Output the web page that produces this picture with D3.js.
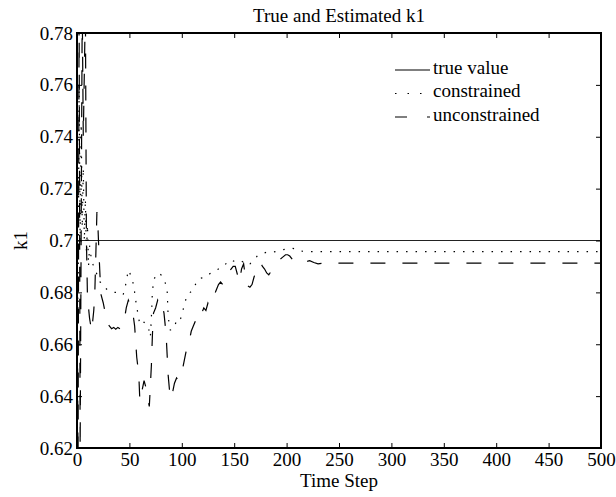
<!DOCTYPE html>
<html>
<head>
<meta charset="utf-8">
<script src="https://cdn.jsdelivr.net/npm/d3@7"></script>
<style>
  body { margin: 0; background: #fff; }
  text { font-family: "Liberation Serif", "Times New Roman", serif; fill: #000; }
</style>
</head>
<body>
<svg width="616" height="497"></svg>
<script>
// Données
const xTicks = [0, 50, 100, 150, 200, 250, 300, 350, 400, 450, 500];
const yTicks = [0.62, 0.64, 0.66, 0.68, 0.7, 0.72, 0.74, 0.76, 0.78];
const trueValue = 0.7;

const unconStep = [0, 1, 2, 3, 5, 6, 8, 9, 10, 12, 14, 16, 17, 18, 19, 20, 21, 22, 23, 25, 27, 29, 31, 33, 35, 37, 39, 41, 43, 45, 47, 49, 51, 53, 55, 57, 59, 60, 62, 64, 66, 68, 69, 71, 72, 73, 75, 77, 79, 81, 83, 85, 87, 89, 91, 93, 95, 97, 99, 101, 103, 105, 107, 109, 111, 113, 115, 117, 119, 121, 123, 125, 127, 130, 133, 135, 137, 139, 141, 143, 145, 147, 149, 151, 153, 155, 157, 159, 161, 163, 165, 167, 169, 171, 173, 175, 177, 179, 181, 183, 185, 187, 190, 193, 196, 199, 201, 203, 206, 210, 215, 218, 222, 226, 230, 240, 250, 275, 300, 350, 400, 450, 500];
const unconValue = [0.70, 0.61, 0.79, 0.62, 0.79, 0.74, 0.79, 0.70, 0.678, 0.670, 0.665, 0.673, 0.680, 0.695, 0.711, 0.705, 0.695, 0.686, 0.679, 0.676, 0.672, 0.668, 0.667, 0.666, 0.6665, 0.6658, 0.6665, 0.666, 0.6665, 0.669, 0.674, 0.677, 0.675, 0.673, 0.667, 0.655, 0.648, 0.638, 0.642, 0.646, 0.643, 0.638, 0.636, 0.652, 0.664, 0.672, 0.674, 0.677, 0.675, 0.676, 0.672, 0.664, 0.648, 0.639, 0.641, 0.645, 0.647, 0.646, 0.648, 0.651, 0.655, 0.659, 0.661, 0.665, 0.667, 0.669, 0.671, 0.673, 0.672, 0.674, 0.673, 0.676, 0.675, 0.678, 0.681, 0.683, 0.684, 0.683, 0.685, 0.686, 0.688, 0.689, 0.690, 0.690, 0.687, 0.684, 0.689, 0.691, 0.685, 0.6825, 0.682, 0.683, 0.686, 0.688, 0.690, 0.6915, 0.690, 0.689, 0.6875, 0.6868, 0.688, 0.6895, 0.691, 0.6925, 0.6935, 0.6945, 0.6945, 0.694, 0.6925, 0.6915, 0.691, 0.6918, 0.6922, 0.6915, 0.691, 0.6915, 0.6913, 0.6913, 0.6913, 0.6913, 0.6913, 0.6913, 0.6913];

const conStep = [0, 1, 2, 3, 4, 5, 6, 7, 8, 9, 10, 11, 12, 14, 16, 18, 20, 22, 24, 26, 29, 32, 35, 38, 41, 44, 46, 48, 49, 50, 52, 54, 56, 58, 60, 62, 64, 66, 68, 70, 71, 72, 74, 76, 78, 80, 82, 84, 86, 87, 89, 91, 93, 95, 97, 99, 101, 103, 105, 108, 111, 113, 115, 118, 122, 126, 131, 135, 138, 142, 146, 150, 153, 157, 161, 165, 169, 172, 176, 181, 187, 192, 197, 201, 205, 208, 212, 220, 250, 300, 350, 400, 450, 500];
const conValue = [0.70, 0.668, 0.76, 0.70, 0.745, 0.705, 0.728, 0.70, 0.716, 0.695, 0.706, 0.69, 0.698, 0.692, 0.690, 0.688, 0.686, 0.684, 0.6835, 0.682, 0.681, 0.6805, 0.680, 0.680, 0.6795, 0.679, 0.682, 0.6865, 0.6886, 0.688, 0.6855, 0.683, 0.677, 0.672, 0.6675, 0.668, 0.6685, 0.6675, 0.6667, 0.6628, 0.6705, 0.681, 0.6855, 0.687, 0.6875, 0.6868, 0.686, 0.684, 0.681, 0.6705, 0.6655, 0.6655, 0.667, 0.669, 0.6685, 0.670, 0.673, 0.676, 0.679, 0.680, 0.681, 0.683, 0.6848, 0.6855, 0.6858, 0.687, 0.6882, 0.689, 0.6894, 0.691, 0.6925, 0.692, 0.6917, 0.6922, 0.6906, 0.691, 0.6925, 0.694, 0.6948, 0.6955, 0.6955, 0.696, 0.6965, 0.6968, 0.697, 0.6968, 0.696, 0.6957, 0.6957, 0.6957, 0.6957, 0.6957, 0.6957, 0.6957];

const legendLabels = ["true value", "constrained", "unconstrained"];

// Paramètres principaux
const svg = d3.select("svg"),
      margin = { top: 33, right: 15, bottom: 49, left: 77 },
      width = +svg.attr("width") - margin.left - margin.right,
      height = +svg.attr("height") - margin.top - margin.bottom;

const x = d3.scaleLinear().domain([0, 500]).range([0, width]);
const y = d3.scaleLinear().domain([0.62, 0.78]).range([height, 0]);

const g = svg.append("g").attr("transform", `translate(${margin.left},${margin.top})`);

g.append("clipPath").attr("id", "clip")
  .append("rect").attr("width", width).attr("height", height);

const plot = g.append("g").attr("clip-path", "url(#clip)");

// Valeur vraie
plot.append("line")
  .attr("x1", x(0)).attr("x2", x(500))
  .attr("y1", y(trueValue)).attr("y2", y(trueValue))
  .attr("stroke", "#222").attr("stroke-width", 1.2);

const line = d3.line().x(d => x(d[0])).y(d => y(d[1]));

plot.append("path")
  .datum(conStep.map((s, i) => [s, conValue[i]]))
  .attr("d", line)
  .attr("fill", "none").attr("stroke", "#000").attr("stroke-width", 1.2)
  .attr("stroke-dasharray", "1.5,8");

plot.append("path")
  .datum(unconStep.map((s, i) => [s, unconValue[i]]))
  .attr("d", line)
  .attr("fill", "none").attr("stroke", "#000").attr("stroke-width", 1.2)
  .attr("stroke-dasharray", "15,17");

// Axes (graduations vers l'intérieur)
const fmt = d => String(d);
const axisStyle = sel => {
  sel.select(".domain").remove();
  sel.selectAll("line").attr("stroke", "#000").attr("stroke-width", 1);
  sel.selectAll("text").style("font-size", "19px").style("font-family", "'Liberation Serif', serif");
};

g.append("g").attr("transform", `translate(0,${height})`)
  .call(d3.axisBottom(x).tickValues(xTicks).tickFormat(fmt).tickSize(-5).tickPadding(5))
  .call(axisStyle);
g.append("g")
  .call(d3.axisTop(x).tickValues(xTicks).tickFormat("").tickSize(-5))
  .call(axisStyle);
g.append("g")
  .call(d3.axisLeft(y).tickValues(yTicks).tickFormat(fmt).tickSize(-5).tickPadding(4))
  .call(axisStyle);
g.append("g").attr("transform", `translate(${width},0)`)
  .call(d3.axisRight(y).tickValues(yTicks).tickFormat("").tickSize(-5))
  .call(axisStyle);

g.append("rect")
  .attr("width", width).attr("height", height)
  .attr("fill", "none").attr("stroke", "#000").attr("stroke-width", 2);

// Titres
svg.append("text")
  .attr("x", margin.left + width / 2).attr("y", 22)
  .attr("text-anchor", "middle").style("font-size", "19px")
  .text("True and Estimated k1");

svg.append("text")
  .attr("x", margin.left + width / 2).attr("y", 487)
  .attr("text-anchor", "middle").style("font-size", "19px")
  .text("Time Step");

svg.append("text")
  .attr("transform", `translate(27,${margin.top + height / 2}) rotate(-90)`)
  .attr("text-anchor", "middle").style("font-size", "19px")
  .text("k1");

// Légende
const legendDash = [null, "1.5,11", "12,20"];
const legend = svg.append("g");
legendLabels.forEach((label, i) => {
  const ly = 70 + i * 23.5;
  legend.append("line")
    .attr("x1", 395).attr("x2", 430).attr("y1", ly).attr("y2", ly)
    .attr("stroke", "#000").attr("stroke-width", 1.2)
    .attr("stroke-dasharray", legendDash[i]);
  legend.append("text")
    .attr("x", 433).attr("y", ly + 3.5)
    .style("font-size", "19px")
    .text(label);
});
</script>
</body>
</html>
